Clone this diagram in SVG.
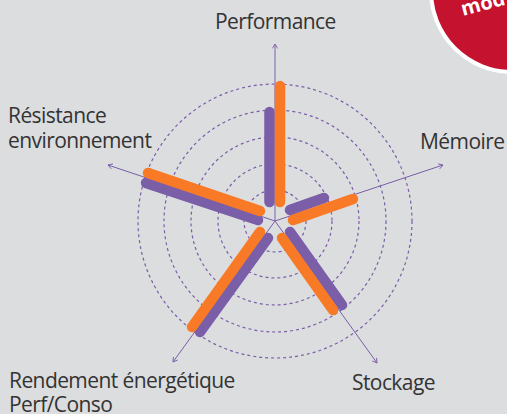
<svg xmlns="http://www.w3.org/2000/svg" width="507" height="414" viewBox="0 0 507 414">
<style>
text{font-family:"Open Sans","Liberation Sans",sans-serif;font-size:21px;letter-spacing:-.58px;fill:#333}
.ring{fill:none;stroke:#7a5ea8;stroke-width:1.2;stroke-dasharray:3 3}
.axis{fill:none;stroke:#7a5ea8;stroke-width:1}
.p{stroke:#7a5ea8;stroke-width:10.5;stroke-linecap:round;fill:none}
.o{stroke:#f87a26;stroke-width:10.5;stroke-linecap:round;fill:none}
</style>
<defs><marker id="a" viewBox="0 0 8 8" refX="7" refY="4" markerWidth="7" markerHeight="7" markerUnits="userSpaceOnUse" orient="auto"><path d="M2 1L7 4L2 7" fill="none" stroke="#7a5ea8" stroke-width="1"/></marker></defs>
<rect width="507" height="414" fill="#dcdddf"/>
<g id="badge"><circle cx="512" cy="-9" r="81" fill="#c4122f" stroke="#fff" stroke-width="4"/>
<text x="463" y="16" transform="rotate(-15 463 16)" style="font-weight:700;font-size:20px;letter-spacing:0;fill:#fff">mod</text></g>
<g id="grid"><circle class="ring" cx="275" cy="221" r="31"/><circle class="ring" cx="275" cy="221" r="57"/><circle class="ring" cx="275" cy="221" r="84"/><circle class="ring" cx="275" cy="221" r="111"/><circle class="ring" cx="275" cy="221" r="137"/></g>
<g id="connectors">
<path class="axis" d="M275 221V44" marker-end="url(#a)" style="stroke:#9485bd;stroke-width:1.4"/>
<path class="axis" d="M275 221L443 165" marker-end="url(#a)"/>
<path class="axis" d="M275 221L377 363" marker-end="url(#a)"/>
<path class="axis" d="M275 221L173 362" marker-end="url(#a)"/>
<path class="axis" d="M275 221L108 165" marker-end="url(#a)"/>
</g>
<g id="series-purple">
<path class="p" d="M269.5 112V202"/><path class="p" d="M290 210L324 198"/><path class="p" d="M290 232L342 305"/><path class="p" d="M268 238L200 332"/><path class="p" d="M258 220L146 183"/>
</g>
<g id="series-orange">
<path class="o" d="M280 86V202"/><path class="o" d="M293 220L353 199"/><path class="o" d="M282 238L333 310"/><path class="o" d="M260 232L192 327"/><path class="o" d="M260 211L148 173"/>
</g>
<g id="node-performance"><text x="215" y="29">Performance</text></g>
<g id="node-memoire"><text x="420" y="149">Mémoire</text></g>
<g id="node-stockage"><text x="352" y="390">Stockage</text></g>
<g id="node-rendement"><text x="9" y="388">Rendement énergétique</text><text x="9" y="412">Perf/Conso</text></g>
<g id="node-resistance"><text x="8" y="123">Résistance</text><text x="8" y="148">environnement</text></g>
</svg>
